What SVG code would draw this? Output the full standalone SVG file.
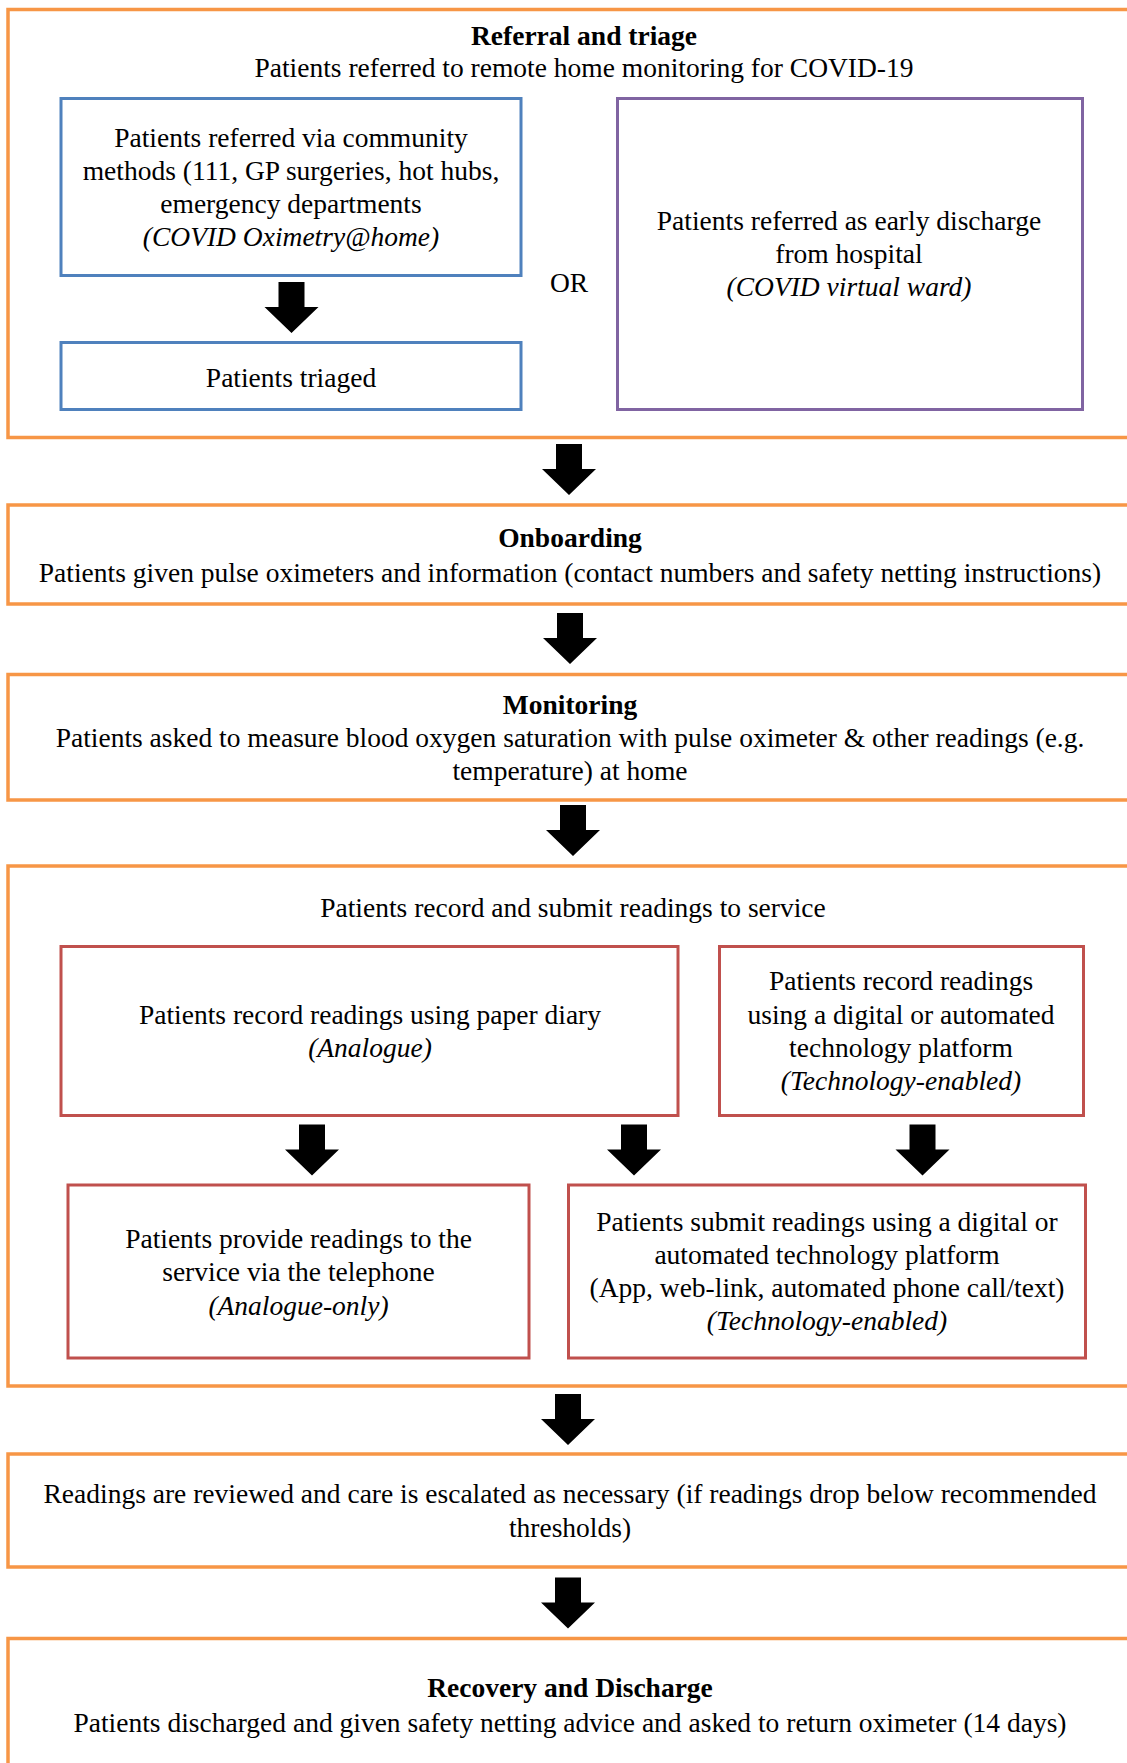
<svg xmlns="http://www.w3.org/2000/svg" xmlns:xlink="http://www.w3.org/1999/xlink" width="1127" height="1763" viewBox="0 0 1127 1763">
<style>
  text { font-family: "Liberation Serif", "Times New Roman", serif; font-size: 27.5px; fill: #000; text-anchor: middle; }
  .b { font-weight: bold; }
  .i { font-style: italic; }
  .stage { fill: #fff; stroke: #F79646; stroke-width: 3.5; }
  .blue { fill: #fff; stroke: #4F81BD; stroke-width: 3; }
  .purple { fill: #fff; stroke: #8064A2; stroke-width: 3; }
  .red { fill: #fff; stroke: #C0504D; stroke-width: 3; }
  .arrow { fill: #000; }
</style>
<defs>
  <path id="barrow" d="M-13,0 H13 V25 H27 L0,51 L-27,25 H-13 Z"/>
</defs>
<rect width="1127" height="1763" fill="#fff"/>

<g id="stage-referral">
  <rect class="stage" x="8" y="9.5" width="1140" height="428"/>
  <text class="b" x="584" y="45">Referral and triage</text>
  <text x="584" y="77">Patients referred to remote home monitoring for COVID-19</text>
  <text x="569" y="292">OR</text>
</g>
<g id="node-community">
  <rect class="blue" x="61" y="98.5" width="460" height="177"/>
  <text x="291" y="147">Patients referred via community</text>
  <text x="291" y="180">methods (111, GP surgeries, hot hubs,</text>
  <text x="291" y="213">emergency departments</text>
  <text class="i" x="291" y="246">(COVID Oximetry@home)</text>
</g>
<g id="node-triaged">
  <rect class="blue" x="61" y="342.5" width="460" height="67"/>
  <text x="291" y="387">Patients triaged</text>
</g>
<g id="node-discharge">
  <rect class="purple" x="617.5" y="98.5" width="465" height="311"/>
  <text x="849" y="230">Patients referred as early discharge</text>
  <text x="849" y="263">from hospital</text>
  <text class="i" x="849" y="296">(COVID virtual ward)</text>
</g>

<g id="stage-onboarding">
  <rect class="stage" x="8" y="505" width="1140" height="99"/>
  <text class="b" x="570" y="547">Onboarding</text>
  <text x="570" y="582">Patients given pulse oximeters and information (contact numbers and safety netting instructions)</text>
</g>

<g id="stage-monitoring">
  <rect class="stage" x="8" y="674.5" width="1140" height="125.5"/>
  <text class="b" x="570" y="714">Monitoring</text>
  <text x="570" y="747">Patients asked to measure blood oxygen saturation with pulse oximeter &amp; other readings (e.g.</text>
  <text x="570" y="780">temperature) at home</text>
</g>

<g id="stage-record">
  <rect class="stage" x="8" y="866" width="1140" height="520"/>
  <text x="573" y="917">Patients record and submit readings to service</text>
</g>
<g id="node-paper">
  <rect class="red" x="61" y="946.5" width="617" height="169"/>
  <text x="370" y="1024">Patients record readings using paper diary</text>
  <text class="i" x="370" y="1057">(Analogue)</text>
</g>
<g id="node-digital-record">
  <rect class="red" x="719.5" y="946.5" width="364" height="169"/>
  <text x="901" y="990">Patients record readings</text>
  <text x="901" y="1024">using a digital or automated</text>
  <text x="901" y="1057">technology platform</text>
  <text class="i" x="901" y="1090">(Technology-enabled)</text>
</g>
<g id="node-telephone">
  <rect class="red" x="68" y="1185" width="461" height="173"/>
  <text x="298.5" y="1248">Patients provide readings to the</text>
  <text x="298.5" y="1281">service via the telephone</text>
  <text class="i" x="298.5" y="1315">(Analogue-only)</text>
</g>
<g id="node-digital-submit">
  <rect class="red" x="568.5" y="1185" width="517" height="173"/>
  <text x="827" y="1231">Patients submit readings using a digital or</text>
  <text x="827" y="1264">automated technology platform</text>
  <text x="827" y="1297">(App, web-link, automated phone call/text)</text>
  <text class="i" x="827" y="1330">(Technology-enabled)</text>
</g>

<g id="stage-review">
  <rect class="stage" x="8" y="1454" width="1140" height="113"/>
  <text x="570" y="1503">Readings are reviewed and care is escalated as necessary (if readings drop below recommended</text>
  <text x="570" y="1537">thresholds)</text>
</g>

<g id="stage-recovery">
  <rect class="stage" x="8" y="1638.5" width="1140" height="140"/>
  <text class="b" x="570" y="1697">Recovery and Discharge</text>
  <text x="570" y="1732">Patients discharged and given safety netting advice and asked to return oximeter (14 days)</text>
</g>

<g id="connectors" class="arrow">
  <use xlink:href="#barrow" x="291.5" y="282"/>
  <use xlink:href="#barrow" x="569" y="444"/>
  <use xlink:href="#barrow" x="570" y="613"/>
  <use xlink:href="#barrow" x="573" y="805"/>
  <use xlink:href="#barrow" x="312" y="1124.5"/>
  <use xlink:href="#barrow" x="634" y="1124.5"/>
  <use xlink:href="#barrow" x="922.5" y="1124.5"/>
  <use xlink:href="#barrow" x="568" y="1394"/>
  <use xlink:href="#barrow" x="568" y="1577.5"/>
</g>
</svg>
